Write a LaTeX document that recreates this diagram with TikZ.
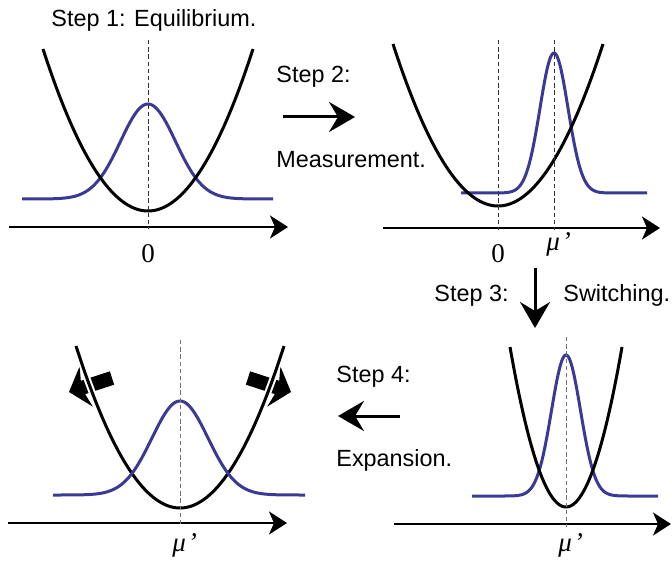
\documentclass[tikz,border=0pt]{standalone}
\usepackage{fontspec}
\setmainfont{Liberation Sans}
\newfontfamily\axisfont{Liberation Serif}
\usepackage{tikz}
\usetikzlibrary{arrows.meta,positioning}
\definecolor{wavepkt}{RGB}{58,58,150}

\begin{document}
\begin{tikzpicture}[x=0.5pt, y=-0.5pt]
    \tikzstyle{steptext} = [inner sep=0pt, anchor=base west, font=\fontsize{11.7}{14}\selectfont]
    \tikzstyle{axislbl} = [inner sep=0pt, anchor=base west, font=\fontsize{13.5}{16}\selectfont\axisfont]
    \tikzstyle{axis} = [line width=1.2pt, -{Stealth[length=9pt,width=11.5pt,inset=2.5pt]}]
    \tikzstyle{guide} = [line width=0.5pt, dash pattern=on 2.2pt off 1.4pt]
    \tikzstyle{trap} = [line width=1.5pt, black]
    \tikzstyle{packet} = [line width=1.5pt, wavepkt]
    \tikzstyle{steparrow} = [line width=1.5pt, -{Stealth[length=13pt,width=15pt,inset=4.5pt]}]
    \tikzstyle{push} = [line width=7pt, -{Stealth[length=9pt,width=21pt,inset=2.5pt]}]

    \useasboundingbox (0,0) rectangle (672,561);

    % Step 1: equilibrium
    \node [steptext] (s1) at (51,27) {Step 1: Equilibrium.};
    \coordinate (a1s) at (9,227);
    \coordinate (a1e) at (288,227);
    \draw [axis] (a1s) -- (a1e);
    \draw [packet] plot [domain=22:273, samples=120] (\x, {199 - 95*exp(-0.5*((\x-148)/27.5)^2)});
    \draw [trap] plot [domain=43:253, samples=80] (\x, {211 - 162*((\x-148)/105)^2});
    \draw [guide, black!80] (148,40) -- (148,229);
    \node [axislbl, anchor=base] (z1) at (148,262) {0};

    % Step 2: measurement
    \node [steptext] (s2) at (276,83) {Step 2:};
    \node [steptext] (m2) at (276,167) {Measurement.};
    \coordinate (p2s) at (283,117);
    \coordinate (p2e) at (355,117);
    \draw [steparrow] (p2s) -- (p2e);
    \coordinate (a2s) at (383,228);
    \coordinate (a2e) at (660,228);
    \draw [axis] (a2s) -- (a2e);
    \draw [packet] plot [domain=461:647, samples=150] (\x, {193 - 140*exp(-0.5*((\x-554)/14)^2)});
    \draw [trap] plot [domain=393:603, samples=80] (\x, {206 - 162*((\x-498)/105)^2});
    \draw [guide, black!80] (498,40) -- (498,230);
    \draw [guide, black!80] (554,40) -- (554,230);
    \node [axislbl, anchor=base] (z2) at (498,262) {0};
    \node [axislbl] (mu2) at (546,250) {\itshape μ\kern1pt’};

    % Step 3: switching
    \node [steptext] (s3) at (434,301) {Step 3:};
    \node [steptext] (w3) at (563,301) {Switching.};
    \coordinate (p3s) at (535,268);
    \coordinate (p3e) at (535,328);
    \draw [steparrow] (p3s) -- (p3e);
    \coordinate (a3s) at (394,524);
    \coordinate (a3e) at (671,524);
    \draw [axis] (a3s) -- (a3e);
    \draw [packet] plot [domain=472:658, samples=150] (\x, {496 - 141*exp(-0.5*((\x-566)/14.5)^2)});
    \draw [trap] plot [domain=510:622, samples=80] (\x, {507 - 160*((\x-566)/56)^2});
    \draw [guide, black!55] (566,337) -- (566,527);
    \node [axislbl] (mu3) at (558,551) {\itshape μ\kern1pt’};

    % Step 4: expansion
    \node [steptext] (s4) at (336,382) {Step 4:};
    \node [steptext] (e4) at (336,466) {Expansion.};
    \coordinate (p4s) at (400,416);
    \coordinate (p4e) at (338,416);
    \draw [steparrow] (p4s) -- (p4e);
    \coordinate (a4s) at (8,523);
    \coordinate (a4e) at (287,523);
    \draw [axis] (a4s) -- (a4e);
    \coordinate (pl) at (112,378);
    \coordinate (tl) at (69,392);
    \coordinate (pr) at (248,378);
    \coordinate (tr) at (291,392);
    \draw [push] (pl) -- (tl);
    \draw [push] (pr) -- (tr);
    \draw [trap, preaction={draw=white, line width=3.5pt}] plot [domain=76:284, samples=80] (\x, {508 - 162*((\x-180)/104)^2});
    \draw [packet] plot [domain=53:305, samples=120] (\x, {495 - 94*exp(-0.5*((\x-180)/28)^2)});
    \draw [guide, black!55] (180,340) -- (180,526);
    \node [axislbl] (mu4) at (172,551) {\itshape μ\kern1pt’};
\end{tikzpicture}
\end{document}
